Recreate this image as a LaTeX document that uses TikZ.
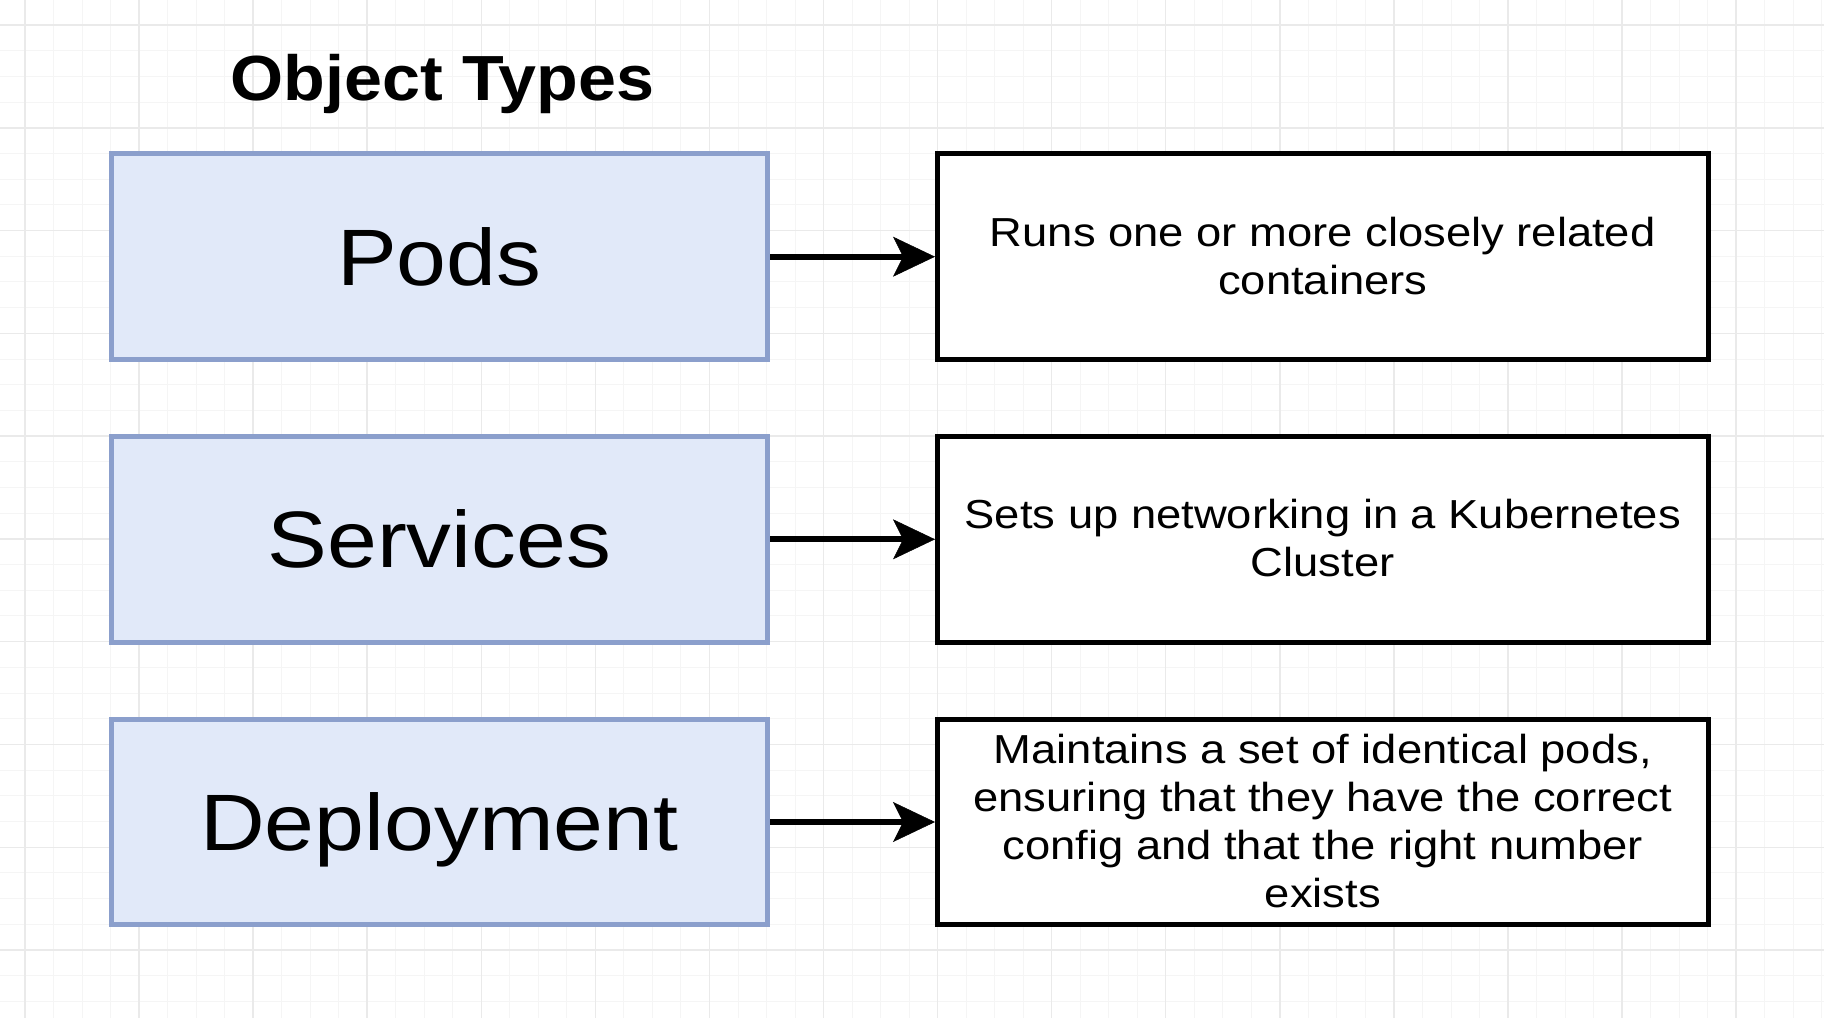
\documentclass[tikz,border=0pt]{standalone}
\usepackage{fontspec}
\setmainfont[FakeStretch=1.12]{Liberation Sans}
\newfontfamily\headfont[FakeStretch=1.07]{Liberation Sans}
\usetikzlibrary{arrows.meta}

\definecolor{gridminor}{HTML}{F5F5F5}
\definecolor{gridmajor}{HTML}{EAEAEA}
\definecolor{typefill}{HTML}{E1E9F9}
\definecolor{typeline}{HTML}{8B9FCC}

% fixed-height strut for every line of a description
\newcommand\descline{\vrule height34pt depth14pt width0pt}

\begin{document}
\begin{tikzpicture}[x=1pt, y=-1pt,
  typebox/.style={draw=typeline, fill=typefill, line width=5pt,
    minimum width=656.5pt, minimum height=205.5pt, inner sep=0pt,
    font=\fontsize{80pt}{96pt}\selectfont, text height=57.3pt, text depth=0pt},
  descbox/.style={draw=black, fill=white, line width=5pt,
    minimum width=770.5pt, minimum height=205.5pt, inner sep=0pt},
  desctext/.style={inner sep=0pt, align=center,
    font=\fontsize{40.5pt}{48pt}\selectfont},
  link/.style={line width=6pt,
    -{Stealth[length=42pt, width=40pt, inset=10pt, line width=0.5pt]}},
  heading/.style={anchor=base, inner sep=0pt,
    font=\headfont\bfseries\fontsize{63.8pt}{72pt}\selectfont}]

  % canvas and background grid
  \useasboundingbox (0,0) rectangle (1824,1018);
  \fill[white] (0,0) rectangle (1824,1018);
  \begin{scope}
    \clip (0,0) rectangle (1824,1018);
    \foreach \i in {-1,...,64} {
      \draw[gridminor, line width=1pt] ({25+\i*28.52},0) -- ({25+\i*28.52},1018);
    }
    \foreach \j in {-1,...,40} {
      \draw[gridminor, line width=1pt] (0,{25+\j*25.695}) -- (1824,{25+\j*25.695});
    }
    \foreach \i in {0,...,16} {
      \draw[gridmajor, line width=1.5pt] ({25+\i*114.07},0) -- ({25+\i*114.07},1018);
    }
    \foreach \j in {0,...,10} {
      \draw[gridmajor, line width=1.5pt] (0,{25+\j*102.78}) -- (1824,{25+\j*102.78});
    }
  \end{scope}

  % heading
  \node[heading] (title) at (442.5,100.7) {Object Types};

  % object types
  \node[typebox] (pods)     at (439.25,256.7) {Pods};
  \node[typebox] (services) at (439.25,539.3) {Services};
  \node[typebox] (deploy)   at (439.25,822)   {Deployment};

  % descriptions: frames, with the text set slightly below centre
  \node[descbox] (podsdesc) at (1322.75,256.7) {};
  \node[descbox] (servicesdesc) at (1322.75,539.3) {};
  \node[descbox] (deploydesc) at (1322.75,822) {};
  \node[desctext] (podstext) at ([yshift=-3.5pt]podsdesc.center)
    {\descline Runs one or more closely related\\\descline containers};
  \node[desctext] (servicestext) at ([yshift=-3.5pt]servicesdesc.center)
    {\descline Sets up networking in a Kubernetes\\\descline Cluster};
  \node[desctext] (deploytext) at ([yshift=-3.5pt]deploydesc.center)
    {\descline Maintains a set of identical pods,\\
     \descline ensuring that they have the correct\\
     \descline config and that the right number\\
     \descline exists};

  % connectors
  \draw[link] (pods.east) -- (podsdesc.west);
  \draw[link] (services.east) -- (servicesdesc.west);
  \draw[link] (deploy.east) -- (deploydesc.west);
\end{tikzpicture}
\end{document}
